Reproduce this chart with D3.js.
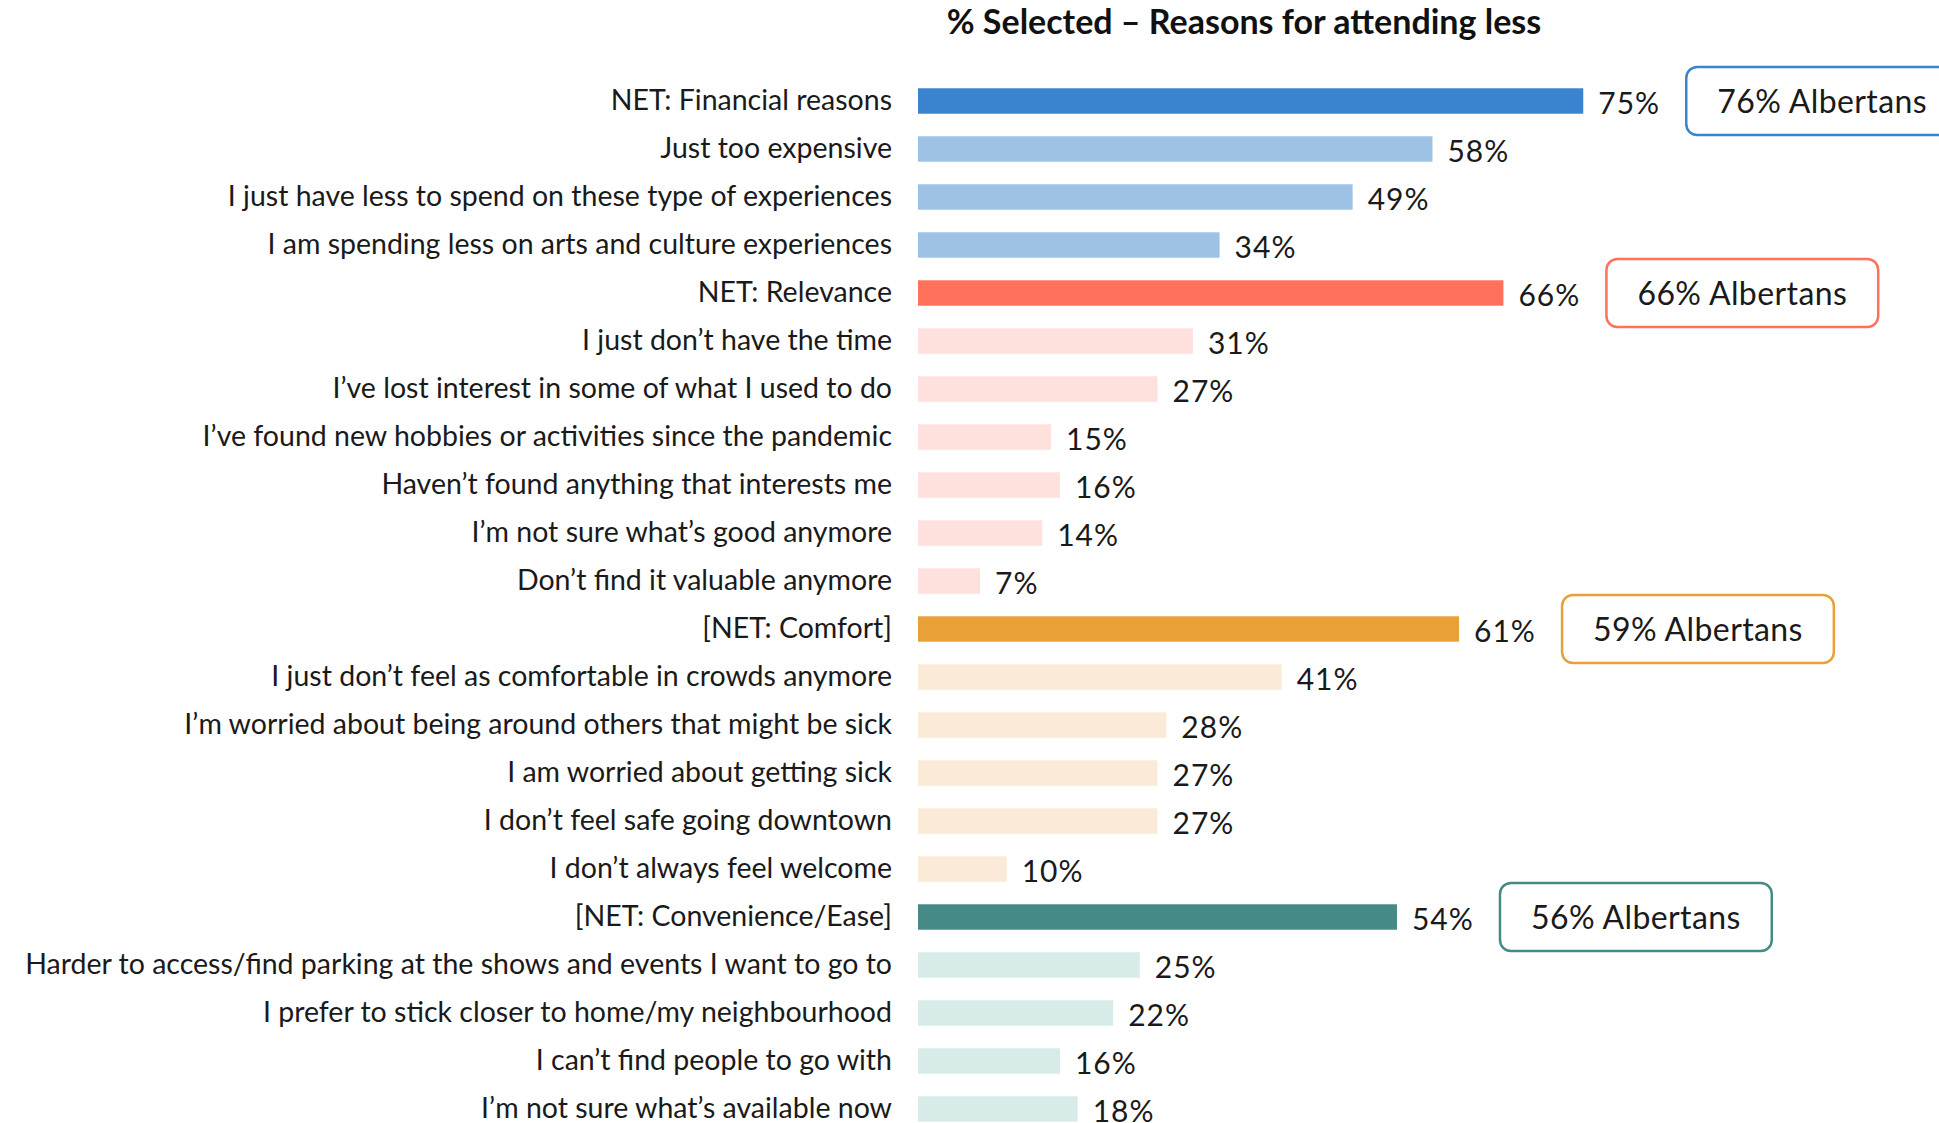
<!DOCTYPE html>
<html lang="en">
<head>
    <meta charset="UTF-8">
    <title>% Selected – Reasons for attending less</title>
    <style>
        body {
            margin: 0;
            background: #fff;
            font-family: Lato, "Open Sans", sans-serif;
        }

        .cat text {
            font-size: 28.5px;
            fill: #1a1a1a;
        }

        .value {
            font-size: 30px;
            letter-spacing: 1px;
            fill: #1a1a1a;
        }

        .callout text {
            font-size: 32px;
            letter-spacing: 0.4px;
            fill: #1a1a1a;
        }
    </style>
</head>

<body>
    <div id="chart"></div>
    <script src="https://d3js.org/d3.v7.min.js"></script>
    <script>

        var categories = [
            "NET: Financial reasons",
            "Just too expensive",
            "I just have less to spend on these type of experiences",
            "I am spending less on arts and culture experiences",
            "NET: Relevance ",
            "I just don\u2019t have the time",
            "I\u2019ve lost interest in some of what I used to do",
            "I\u2019ve found new hobbies or activities since the pandemic",
            "Haven\u2019t found anything that interests me",
            "I\u2019m not sure what\u2019s good anymore",
            "Don\u2019t find it valuable anymore",
            "[NET: Comfort]",
            "I just don\u2019t feel as comfortable in crowds anymore",
            "I\u2019m worried about being around others that might be sick",
            "I am worried about getting sick",
            "I don\u2019t feel safe going downtown",
            "I don\u2019t always feel welcome",
            "[NET: Convenience/Ease]",
            "Harder to access/find parking at the shows and events I want to go to",
            "I prefer to stick closer to home/my neighbourhood",
            "I can\u2019t find people to go with",
            "I\u2019m not sure what\u2019s available now"
        ];

        var values = [75, 58, 49, 34, 66, 31, 27, 15, 16, 14, 7, 61, 41, 28, 27, 27, 10, 54, 25, 22, 16, 18];

        // which group each row belongs to, and whether it is the NET row
        var groupIndex = [0, 0, 0, 0, 1, 1, 1, 1, 1, 1, 1, 2, 2, 2, 2, 2, 2, 3, 3, 3, 3, 3];
        var isNet = [1, 0, 0, 0, 1, 0, 0, 0, 0, 0, 0, 1, 0, 0, 0, 0, 0, 1, 0, 0, 0, 0];

        var albertans = [76, 66, 59, 56];

        var netColors = ["#3a83cf", "#ff715b", "#e9a038", "#458a86"];
        var subColors = ["#9dc2e6", "#fee0dd", "#fbead8", "#d7ebe9"];

        var width = 1939, height = 1123;

        var svg = d3.select("#chart").append("svg")
            .attr("width", width)
            .attr("height", height);

        var x = d3.scaleLinear().domain([0, 100]).range([918, 1805]);

        var y = d3.scaleBand()
            .domain(categories)
            .range([77, 1133])
            .paddingInner(0.47)
            .paddingOuter(0.235);

        svg.append("text")
            .attr("x", 1244)
            .attr("y", 34)
            .attr("text-anchor", "middle")
            .style("font-size", "34px")
            .style("font-weight", "bold")
            .style("fill", "#111")
            .text("% Selected \u2013 Reasons for attending less");

        var yAxis = d3.axisLeft(y).tickSize(0).tickPadding(26);

        var axisG = svg.append("g")
            .attr("class", "cat")
            .attr("transform", "translate(" + x(0) + ",0)")
            .call(yAxis);
        axisG.select(".domain").remove();
        axisG.selectAll("text").style("font-family", "Lato, sans-serif");

        svg.append("g")
            .selectAll("rect")
            .data(categories)
            .join("rect")
            .attr("x", x(0))
            .attr("y", function (d) { return y(d); })
            .attr("width", function (d, i) { return x(values[i]) - x(0); })
            .attr("height", y.bandwidth())
            .attr("fill", function (d, i) {
                return isNet[i] ? netColors[groupIndex[i]] : subColors[groupIndex[i]];
            });

        svg.append("g")
            .selectAll("text")
            .data(categories)
            .join("text")
            .attr("class", "value")
            .attr("x", function (d, i) { return x(values[i]) + 15; })
            .attr("y", function (d) { return y(d) + y.bandwidth() / 2; })
            .attr("dy", "0.42em")
            .text(function (d, i) { return values[i] + "%"; });

        // callout boxes next to each NET bar
        var netRows = categories.filter(function (d, i) { return isNet[i]; });

        var callouts = svg.append("g")
            .attr("class", "callout")
            .selectAll("g")
            .data(netRows)
            .join("g")
            .attr("transform", function (d) {
                var i = categories.indexOf(d);
                return "translate(" + (x(values[i]) + 102) + "," + (y(d) + y.bandwidth() / 2) + ")";
            });

        callouts.append("text")
            .attr("x", 32)
            .attr("dy", "0.36em")
            .text(function (d, k) { return albertans[k] + "% Albertans"; });

        callouts.insert("rect", "text")
            .attr("x", 1)
            .attr("y", -34)
            .attr("height", 68)
            .attr("rx", 11)
            .attr("fill", "#fff")
            .attr("stroke-width", 2.5)
            .attr("stroke", function (d, k) { return netColors[k]; })
            .attr("width", function () {
                return this.parentNode.querySelector("text").getComputedTextLength() + 62;
            });

    </script>
</body>

</html>
